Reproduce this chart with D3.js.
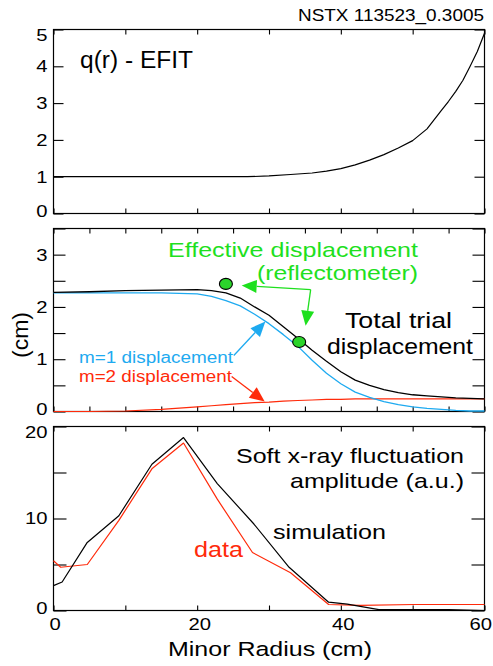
<!DOCTYPE html>
<html><head><meta charset="utf-8">
<script src="https://cdn.jsdelivr.net/npm/d3@7"></script>
<style>
body{margin:0;background:#fff}
svg{display:block}
text{font-family:"Liberation Sans",Arial,Helvetica,sans-serif;fill:#000}
</style>
</head><body>
<svg id="chart" width="493" height="666"></svg>
<script>
// Safety factor profile from EFIT
const qRadius = [0, 10, 20, 27, 30, 33, 36, 38, 40, 42, 44, 46, 48, 50, 52, 54, 55, 56, 57, 58, 59, 60];
const qValues = [1, 1, 1, 1, 1.02, 1.06, 1.1, 1.15, 1.22, 1.32, 1.45, 1.6, 1.78, 1.98, 2.3, 2.8, 3.05, 3.32, 3.62, 4.0, 4.4, 4.9];

// Displacement profiles (cm)
const dispRadius = [0, 5, 10, 15, 20, 22, 24, 26, 28, 30, 32, 34, 36, 38, 40, 42, 44, 46, 48, 50, 52, 54, 56, 58, 60];
const totalDisp  = [2.28, 2.29, 2.31, 2.32, 2.33, 2.31, 2.27, 2.17, 2.0, 1.84, 1.62, 1.4, 1.17, 0.96, 0.76, 0.6, 0.5, 0.42, 0.36, 0.32, 0.3, 0.28, 0.26, 0.25, 0.24];
const m1Disp     = [2.27, 2.27, 2.27, 2.27, 2.25, 2.2, 2.12, 2.02, 1.86, 1.68, 1.47, 1.25, 0.98, 0.73, 0.53, 0.37, 0.27, 0.19, 0.13, 0.09, 0.06, 0.04, 0.02, 0.01, 0.01];
const m2Disp     = [0, 0, 0.01, 0.04, 0.09, 0.11, 0.13, 0.15, 0.17, 0.18, 0.2, 0.21, 0.22, 0.23, 0.23, 0.24, 0.24, 0.24, 0.24, 0.24, 0.24, 0.24, 0.24, 0.24, 0.24];

// Reflectometer effective displacement
const reflRadius = [24, 34.2];
const reflDisp   = [2.44, 1.33];

// Soft x-ray fluctuation amplitude (a.u.)
const simRadius  = [0, 1.2, 4.7, 9.1, 13.7, 18.1, 22.8, 27.9, 32.8, 38.3, 40.9, 45.3, 55, 60];
const simAmp     = [2.7, 3.1, 7.4, 10.3, 15.9, 18.8, 13.8, 9.4, 4.7, 0.9, 0.7, 0.1, 0.1, 0];
const dataRadius = [0, 1.0, 4.7, 9.1, 13.7, 18.1, 22.8, 27.7, 33.0, 38.3, 42.7, 50.2, 60];
const dataAmp    = [5.4, 4.7, 5.0, 9.8, 15.4, 18.2, 12.1, 6.3, 4.1, 0.65, 0.55, 0.65, 0.65];

// Tick values
const xMajorTicks = [0, 20, 40, 60];
const xTicks10 = [0, 10, 20, 30, 40, 50, 60];
const xTicks5 = d3.range(0, 61, 5);
const qTicks = [0, 1, 2, 3, 4, 5];
const dispTicks = [0, 1, 2, 3];
const dispMinor = [0.5, 1.5, 2.5, 3.5];
const ampTicks = [0, 10, 20];
const ampMinor = [5, 15];

const GREEN = "#1ee01e", BLUE = "#1eaaf0", RED = "#ff2a0a";
const SX = 1.19;  // horizontal stretch of tick numerals
const FONT_TICK = 17;

const svg = d3.select("#chart");
const L = 53.5, R = 484.5;
const x = d3.scaleLinear().domain([0, 60]).range([L, R]);

const panels = {
  q:    {top: 29.5, bottom: 213.5, domain: [0, 5]},
  disp: {top: 228.5, bottom: 411.5, domain: [0, 3.5]},
  amp:  {top: 426.5, bottom: 610.5, domain: [0, 20]}
};
for (const k in panels) {
  const p = panels[k];
  p.y = d3.scaleLinear().domain(p.domain).range([p.bottom, p.top]);
}

function stretchText(sel) {
  sel.each(function() {
    const t = d3.select(this);
    const xx = +t.attr("x") || 0;
    t.attr("x", xx / SX).attr("transform", `scale(${SX},1)`);
  });
}

// Text fitted to a given width
function label(txt, px, py, size, width, anchor, color) {
  return svg.append("text")
    .attr("x", px).attr("y", py)
    .attr("text-anchor", anchor || "start")
    .attr("textLength", width)
    .attr("lengthAdjust", "spacingAndGlyphs")
    .style("font-size", size + "px")
    .style("fill", color || "#000")
    .text(txt);
}

function drawFrame(p, opts) {
  const g = svg.append("g");
  const y = p.y;
  const [d0, d1] = p.domain;
  // Left axis with labels
  const left = g.append("g").attr("transform", `translate(${L},0)`)
    .call(d3.axisLeft(y).tickValues(opts.yTicks).tickSize(-opts.yTickLen).tickPadding(6).tickFormat(d3.format("d")));
  left.select(".domain").remove();
  left.selectAll("text").style("font-size", FONT_TICK + "px").style("font-family", null)
    .attr("dy", d => d === d1 ? "0.62em" : d === d0 ? "0.18em" : "0.32em")
    .call(stretchText);
  if (opts.yMinor) {
    const lm = g.append("g").attr("transform", `translate(${L},0)`)
      .call(d3.axisLeft(y).tickValues(opts.yMinor).tickSize(-opts.yTickLen).tickFormat(""));
    lm.select(".domain").remove();
  }
  // Right axis ticks
  const rightTicks = opts.yTicks.concat(opts.yMinor || []);
  const right = g.append("g").attr("transform", `translate(${R},0)`)
    .call(d3.axisRight(y).tickValues(rightTicks).tickSize(-opts.yTickLen).tickFormat(""));
  right.select(".domain").remove();
  // Bottom and top ticks
  const bottom = g.append("g").attr("transform", `translate(0,${p.bottom})`)
    .call(d3.axisBottom(x).tickValues(opts.xTicks).tickSize(-opts.xTickLen).tickFormat(""));
  bottom.select(".domain").remove();
  const top = g.append("g").attr("transform", `translate(0,${p.top})`)
    .call(d3.axisTop(x).tickValues(opts.xTicks).tickSize(-opts.xTickLen).tickFormat(""));
  top.select(".domain").remove();
  g.selectAll(".tick line").attr("stroke", "#000").attr("stroke-width", 1.1);
  // Frame
  g.append("rect").attr("x", L).attr("y", p.top).attr("width", R - L).attr("height", p.bottom - p.top)
    .attr("fill", "none").attr("stroke", "#000").attr("stroke-width", 1.2);
  return g;
}

function drawLine(p, xs, ys, color, w) {
  const pts = xs.map((d, i) => [d, ys[i]]);
  svg.append("path").datum(pts)
    .attr("fill", "none").attr("stroke", color).attr("stroke-width", w || 1.3)
    .attr("stroke-linejoin", "round")
    .attr("d", d3.line().x(d => x(d[0])).y(d => p.y(d[1])));
}

function arrow(p, from, to, color, headLen, headHalf) {
  const x0 = x(from[0]), y0 = p.y(from[1]), x1 = x(to[0]), y1 = p.y(to[1]);
  const ang = Math.atan2(y1 - y0, x1 - x0);
  const bx = x1 - headLen * Math.cos(ang), by = y1 - headLen * Math.sin(ang);
  svg.append("line").attr("x1", x0).attr("y1", y0).attr("x2", bx).attr("y2", by)
    .attr("stroke", color).attr("stroke-width", 1.3);
  const nx = -Math.sin(ang) * headHalf, ny = Math.cos(ang) * headHalf;
  svg.append("path")
    .attr("d", `M${x1},${y1}L${bx + nx},${by + ny}L${bx - nx},${by - ny}Z`)
    .attr("fill", color);
}

// ---- Panel 1: q(r)
const pq = panels.q;
drawFrame(pq, {yTicks: qTicks, yTickLen: 10, xTicks: xTicks10, xTickLen: 5});
drawLine(pq, qRadius, qValues, "#000", 1.2);
label("q(r) - EFIT", 80, 68, 23, 113);
label("NSTX 113523_0.3005", 298, 21, 17, 186);

// ---- Panel 2: displacements
const pd = panels.disp;
drawFrame(pd, {yTicks: dispTicks, yMinor: dispMinor, yTickLen: 12, xTicks: xTicks5, xTickLen: 5});
drawLine(pd, dispRadius, m2Disp, RED, 1.2);
drawLine(pd, dispRadius, m1Disp, BLUE, 1.3);
drawLine(pd, dispRadius, totalDisp, "#000", 1.3);

svg.selectAll("ellipse.refl").data(reflRadius).enter().append("ellipse")
  .attr("class", "refl")
  .attr("cx", d => x(d)).attr("cy", (d, i) => pd.y(reflDisp[i]))
  .attr("rx", 6.5).attr("ry", 5.5)
  .attr("fill", "#2bd42b").attr("stroke", "#000").attr("stroke-width", 1.1);

// Callout arrows
const junction = [35.8, 2.33];
arrow(pd, junction, [26.2, 2.41], GREEN, 15, 6.5);
arrow(pd, junction, [35.1, 1.64], GREEN, 15, 6.5);
arrow(pd, [25.1, 1.07], [29.5, 1.72], BLUE, 15, 6.5);
arrow(pd, [24.8, 0.67], [29.4, 0.19], RED, 15, 6.5);

label("Effective displacement", 168, 257, 21, 250, "start", GREEN);
label("(reflectometer)", 257, 280, 21, 161, "start", GREEN);
label("Total trial", 345, 328, 21.5, 107);
label("displacement", 327, 354, 21.5, 146);
label("m=1 displacement", 79, 363, 16, 154, "start", BLUE);
label("m=2 displacement", 79, 382, 16, 153, "start", RED);

// y-axis title
svg.append("text")
  .attr("transform", "translate(28,335) rotate(-90)")
  .attr("text-anchor", "middle")
  .attr("textLength", 46)
  .attr("lengthAdjust", "spacingAndGlyphs")
  .style("font-size", "22px")
  .text("(cm)");

// ---- Panel 3: soft x-ray amplitude
const pa = panels.amp;
drawFrame(pa, {yTicks: ampTicks, yMinor: ampMinor, yTickLen: 13, xTicks: xTicks10, xTickLen: 5});
drawLine(pa, dataRadius, dataAmp, RED, 1.2);
drawLine(pa, simRadius, simAmp, "#000", 1.2);

const xAxis = svg.append("g").attr("transform", `translate(0,${pa.bottom})`)
  .call(d3.axisBottom(x).tickValues(xMajorTicks).tickSize(0).tickPadding(7).tickFormat(d3.format("d")));
xAxis.select(".domain").remove();
xAxis.selectAll("text").style("font-size", FONT_TICK + "px").style("font-family", null)
  .attr("text-anchor", d => d === 60 ? "end" : "middle")
  .attr("x", d => d === 60 ? 7 : d === 0 ? 1 : 2)
  .call(stretchText);

label("Soft x-ray fluctuation", 236, 463, 21, 228);
label("amplitude (a.u.)", 290, 488, 21, 174);
label("simulation", 273, 539, 21, 113);
label("data", 194, 557, 22, 49, "start", RED);

label("Minor Radius (cm)", 168, 656, 20.5, 204);
</script>
</body></html>
